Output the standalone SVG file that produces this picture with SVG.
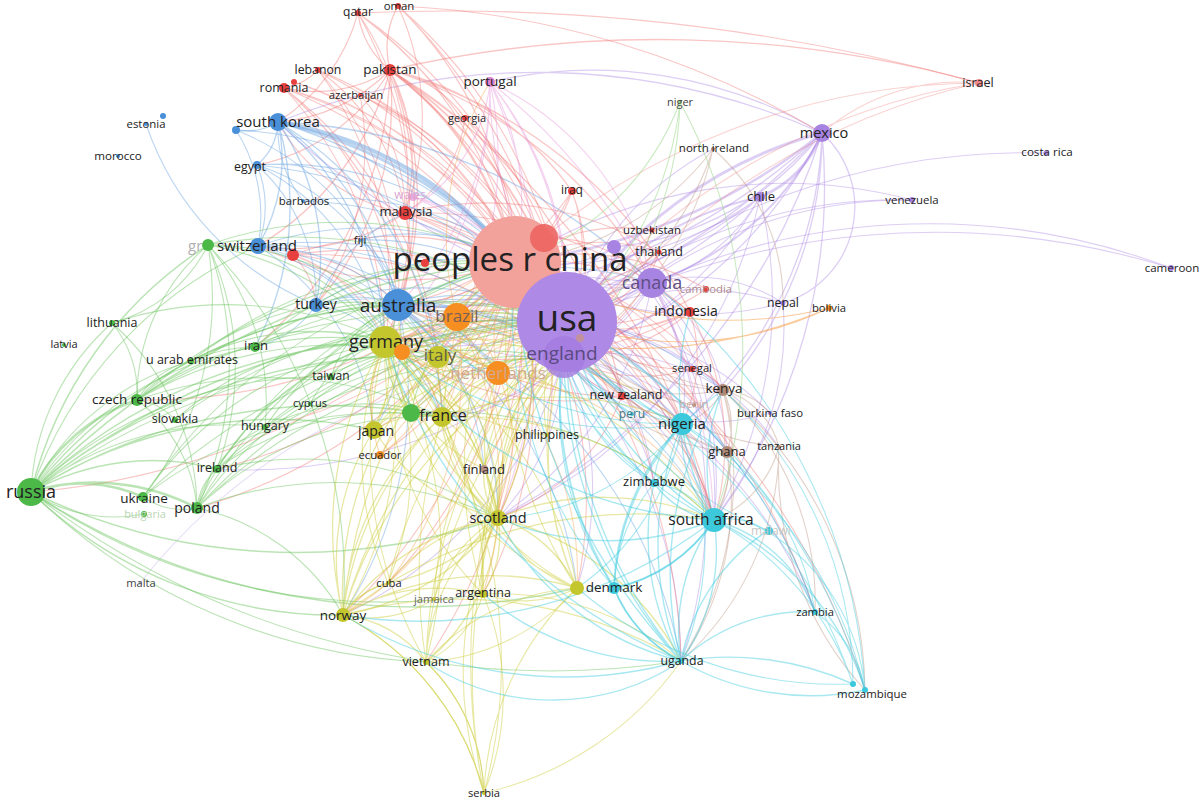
<svg xmlns="http://www.w3.org/2000/svg" width="1203" height="798" viewBox="0 0 1203 798">
<style>
.e{fill:none;stroke-width:1.1;stroke-linecap:round}
.er{stroke:#ee6a66;stroke-opacity:.38}
.eg{stroke:#69c45c;stroke-opacity:.45}
.eb{stroke:#6aa3e0;stroke-opacity:.45}
.ey{stroke:#cdcd3a;stroke-opacity:.45}
.ep{stroke:#a985e4;stroke-opacity:.4}
.ec{stroke:#40cde0;stroke-opacity:.45}
.eo{stroke:#f5a04a;stroke-opacity:.4}
.en{stroke:#b88e7a;stroke-opacity:.4}
.ek{stroke:#e38ad8;stroke-opacity:.4}
.el{stroke:#9ed88e;stroke-opacity:.55}
.cr{fill:#e8403f}.cg{fill:#4cb848}.cb{fill:#4a90d9}.cy{fill:#c4c62e}.cp{fill:#a783e2}.cc{fill:#3cc9dc}.co{fill:#f68e22}.cn{fill:#b08a78}.ck{fill:#dd82cf}.cl{fill:#98d88a}
text{font-family:"Open Sans","Liberation Sans",sans-serif;fill:#222;text-anchor:middle}
.f{fill:#b0b0b0}
</style>
<rect width="1203" height="798" fill="#fff"/>
<g id="connectors">
<!-- purple -->
<path class="e ep" d="M567 322A130 130 0 0 1 652 283M567 322A280 280 0 0 1 783 303M567 322A310 310 0 0 1 770 413M567 322A300 300 0 0 1 779 447M567 322A800 800 0 0 1 1171 268M567 322A510 510 0 0 1 912 200M567 322A710 710 0 0 1 1046 153M567 322A240 240 0 0 1 723 390M567 322A275 275 0 0 1 727 452M567 322A200 200 0 0 1 682 424M567 322A300 300 0 0 1 713 149M567 322A250 250 0 0 1 654 483M567 322A330 330 0 0 1 714 520M567 322A500 500 0 0 1 815 612"/>
<path class="e ep" style="stroke-width:3" d="M567 322A430 430 0 0 1 822 133"/>
<path class="e ep" style="stroke-width:2" d="M567 322A320 320 0 0 1 760 197M822 133A300 300 0 0 1 652 283"/>
<path class="e ep" style="stroke-width:2.5" d="M822 133A600 600 0 0 1 515 262"/>
<path class="e ep" style="stroke-width:3" d="M822 133A110 110 0 0 1 760 197"/>
<path class="e ep" style="stroke-width:1.3" d="M822 133A450 450 0 0 1 564 357M822 133A100 100 0 0 1 783 303M822 133A670 670 0 0 1 385 342M822 133A640 640 0 0 1 398 305M822 133A560 560 0 0 1 714 520M822 133A660 660 0 0 1 498 518M822 133A380 380 0 0 1 723 390M822 133A400 400 0 0 1 682 424M822 133A450 450 0 0 0 490 82M822 133A700 700 0 0 0 278 122M822 133A300 300 0 0 1 614 247"/>
<path class="e ep" d="M760 197A350 350 0 0 1 515 262M760 197A340 340 0 0 1 564 357M760 197A185 185 0 0 1 652 283M760 197A440 440 0 0 1 714 520M760 197A560 560 0 0 1 385 342M760 197A520 520 0 0 1 398 305M760 197A450 450 0 0 1 498 518"/>
<path class="e ep" d="M652 283A185 185 0 0 1 515 262M652 283A155 155 0 0 1 564 357M652 283A330 330 0 0 1 398 305M652 283A380 380 0 0 1 385 342M652 283A335 335 0 0 1 714 520M652 283A200 200 0 0 1 682 424M652 283A260 260 0 0 1 727 452M652 283A175 175 0 0 1 723 390M652 283A160 160 0 0 1 783 303M652 283A340 340 0 0 1 442 417M652 283A570 570 0 0 1 278 122M652 283A350 350 0 0 1 405 213M652 283A490 490 0 0 1 681 661M652 283A360 360 0 0 1 498 518"/>
<path class="e ep" d="M614 247A130 130 0 0 1 515 262M614 247A110 110 0 0 1 567 322M614 247A290 290 0 0 1 398 305M614 247A360 360 0 0 1 714 520M783 303A340 340 0 0 1 515 262M783 303A300 300 0 0 1 714 520M1171 268A680 680 0 0 0 652 283M912 200A450 450 0 0 0 564 357M912 200A500 500 0 0 0 515 262M770 413A200 200 0 0 1 564 357"/>
<path class="e ep" d="M564 357A290 290 0 0 1 714 520M564 357A190 190 0 0 1 682 424M564 357A230 230 0 0 1 398 305M564 357A230 230 0 0 1 385 342M564 357A245 245 0 0 1 498 518M564 357A210 210 0 0 1 723 390M564 357A240 240 0 0 1 727 452M564 357A460 460 0 0 1 681 661M564 357A320 320 0 0 1 577 588M564 357A170 170 0 0 1 442 417M564 357A420 420 0 0 1 343 615M564 357A500 500 0 0 1 217 469M564 357A190 190 0 0 1 654 483M564 357A460 460 0 0 1 815 612"/>
<path class="e ep" style="stroke-opacity:.25" d="M140 583A600 600 0 0 1 564 357"/>
<!-- red -->
<path class="e er" d="M515 262A175 175 0 0 1 398 305M515 262A210 210 0 0 1 385 342M515 262A290 290 0 0 1 374 430M515 262A240 240 0 0 1 442 417M515 262A160 160 0 0 1 438 357M515 262A150 150 0 0 1 498 373M515 262A230 230 0 0 1 622 396M515 262A435 435 0 0 1 714 520M515 262A300 300 0 0 1 682 424M515 262A335 335 0 0 1 723 390M515 262A340 340 0 0 1 498 518M515 262A430 430 0 0 1 577 588M515 262A550 550 0 0 1 343 615M515 262A280 280 0 0 1 484 469M515 262A440 440 0 0 1 483 594M515 262A560 560 0 0 1 426 662M515 262A190 190 0 0 1 659 252M515 262A240 240 0 0 1 690 312M515 262A185 185 0 0 1 652 230"/>
<path class="e er" d="M515 262A340 340 0 0 1 258 246M515 262A750 750 0 0 1 31 492M515 262A560 560 0 0 1 137 400M515 262A540 540 0 0 1 197 508M515 262A495 495 0 0 1 217 469M515 262A410 410 0 0 1 265 427M515 262A370 370 0 0 1 727 452M515 262A600 600 0 0 1 681 661M515 262A285 285 0 0 1 692 369M515 262A250 250 0 0 1 706 289M515 262A320 320 0 0 1 380 455M515 262A230 230 0 0 1 547 435M515 262A360 360 0 0 1 654 483M515 262A610 610 0 0 1 815 612M515 262A450 450 0 0 1 388 583M515 262A740 740 0 0 1 865 690"/>
<path class="e er" style="stroke-width:2.5" d="M390 70A320 320 0 0 1 515 262"/>
<path class="e er" style="stroke-width:2" d="M390 70A420 420 0 0 1 567 322"/>
<path class="e er" style="stroke-width:1.3" d="M390 70A195 195 0 0 1 405 213M390 70A90 90 0 0 1 358 13M390 70A85 85 0 0 1 398 6M390 70A175 175 0 0 1 278 122M390 70A310 310 0 0 1 398 305M390 70A460 460 0 0 1 564 357M390 70A750 750 0 0 1 714 520M390 70A300 300 0 0 1 572 191M390 70A450 450 0 0 1 652 283M390 70A120 120 0 0 1 465 118M390 70A290 290 0 0 1 258 246M390 70A360 360 0 0 1 385 342M390 70A310 310 0 0 1 316 305M390 70A370 370 0 0 1 255 347M390 70A1200 1200 0 0 1 979 83M390 70A480 480 0 0 1 690 312M390 70A490 490 0 0 1 622 396M390 70A200 200 0 0 1 257 165M390 70A140 140 0 0 1 284 88"/>
<path class="e er" d="M358 13A400 400 0 0 1 515 262M358 13A510 510 0 0 1 567 322M358 13A285 285 0 0 1 405 213M358 13A550 550 0 0 1 564 357M358 13A400 400 0 0 1 398 305M358 13A190 190 0 0 1 278 122M358 13A2000 2000 0 0 1 979 83"/>
<path class="e er" d="M398 6A390 390 0 0 1 515 262M398 6A270 270 0 0 1 405 213M398 6A500 500 0 0 1 567 322M398 6A900 900 0 0 1 822 133M398 6A560 560 0 0 1 564 357"/>
<path class="e er" d="M318 70A360 360 0 0 1 515 262M318 70A450 450 0 0 1 567 322M318 70A480 480 0 0 1 564 357M318 70A60 60 0 0 1 284 88M318 70A320 320 0 0 1 398 305M318 70A210 210 0 0 1 405 213M318 70A360 360 0 0 1 385 342"/>
<path class="e er" d="M284 88A390 390 0 0 1 515 262M284 88A490 490 0 0 1 567 322M284 88A380 380 0 0 1 385 342M284 88A400 400 0 0 1 438 357M284 88A460 460 0 0 1 442 417M284 88A320 320 0 0 1 398 305M284 88A520 520 0 0 1 564 357M294 82A390 390 0 0 1 515 262M294 82A480 480 0 0 1 567 322"/>
<path class="e er" d="M360 95A310 310 0 0 1 515 262M360 95A380 380 0 0 1 567 322M360 95A170 170 0 0 1 405 213M360 95A280 280 0 0 1 316 305M465 118A200 200 0 0 1 515 262M465 118A310 310 0 0 1 567 322M465 118A130 130 0 0 1 405 213"/>
<path class="e er" d="M405 213A170 170 0 0 1 515 262M405 213A270 270 0 0 1 567 322M405 213A130 130 0 0 1 398 305M405 213A280 280 0 0 1 564 357M405 213A180 180 0 0 1 278 122M405 213A420 420 0 0 1 690 312M405 213A180 180 0 0 1 385 342M405 213A480 480 0 0 1 714 520M405 213A420 420 0 0 1 682 424M405 213A200 200 0 0 1 258 246M405 213A330 330 0 0 1 659 252"/>
<path class="e er" d="M572 191A120 120 0 0 1 515 262M572 191A175 175 0 0 1 567 322M572 191A210 210 0 0 1 564 357M572 191A280 280 0 0 1 385 342M572 191A270 270 0 0 1 398 305"/>
<path class="e er" d="M293 255A290 290 0 0 1 515 262M293 255A360 360 0 0 1 567 322M293 255A150 150 0 0 1 398 305M293 255A150 150 0 0 1 385 342M293 255A250 250 0 0 1 442 417M293 255A360 360 0 0 1 564 357M293 255A80 80 0 0 1 316 305"/>
<path class="e er" d="M544 238A160 160 0 0 1 564 357M544 238A200 200 0 0 1 398 305M544 238A230 230 0 0 1 385 342M544 238A140 140 0 0 1 652 283"/>
<path class="e er" d="M690 312A170 170 0 0 1 567 322M690 312A380 380 0 0 1 398 305M690 312A270 270 0 0 1 714 520M690 312A150 150 0 0 1 682 424M690 312A190 190 0 0 1 564 357M690 312A400 400 0 0 1 385 342"/>
<path class="e er" d="M622 396A120 120 0 0 1 567 322M622 396A310 310 0 0 1 398 305M622 396A110 110 0 0 1 564 357M622 396A180 180 0 0 1 714 520M622 396A310 310 0 0 1 385 342M622 396A90 90 0 0 1 682 424M622 396A210 210 0 0 1 498 518"/>
<path class="e er" d="M692 369A170 170 0 0 1 567 322M692 369A50 50 0 0 1 723 390M692 369A170 170 0 0 1 564 357M706 289A190 190 0 0 1 567 322M659 252A130 130 0 0 1 567 322M659 252A340 340 0 0 1 398 305M659 252A170 170 0 0 1 564 357M652 230A160 160 0 0 1 567 322"/>
<path class="e er" style="stroke-opacity:.3" d="M979 83A700 700 0 0 0 515 262M979 83A660 660 0 0 0 567 322M979 83A700 700 0 0 0 564 357M979 83A210 210 0 0 0 822 133"/>
<!-- blue -->
<path class="e eb" style="stroke-width:4;stroke-opacity:.5" d="M278 122A380 380 0 0 1 515 262"/>
<path class="e eb" style="stroke-width:3" d="M278 122A480 480 0 0 1 567 322"/>
<path class="e eb" style="stroke-width:1.4" d="M278 122A300 300 0 0 1 398 305M278 122A60 60 0 0 1 257 165M278 122A170 170 0 0 1 258 246M278 122A300 300 0 0 1 385 342M278 122A480 480 0 0 1 564 357M278 122A240 240 0 0 1 316 305M278 122A330 330 0 0 1 438 357M278 122A60 60 0 0 1 236 130M278 122A300 300 0 0 1 255 347M278 122A570 570 0 0 1 652 283"/>
<path class="e eb" d="M236 130A160 160 0 0 1 258 246M236 130A400 400 0 0 1 515 262M236 130A280 280 0 0 1 398 305M146 124A300 300 0 0 0 316 305"/>
<path class="e eb" d="M257 165A330 330 0 0 1 515 262M257 165A480 480 0 0 1 567 322M257 165A220 220 0 0 1 398 305M257 165A110 110 0 0 1 258 246M257 165A180 180 0 0 1 316 305M257 165A200 200 0 0 1 405 213M257 165A240 240 0 0 1 385 342"/>
<path class="e eb" d="M258 246A340 340 0 0 1 515 262M258 246A440 440 0 0 1 567 322M258 246A190 190 0 0 1 385 342M258 246A420 420 0 0 1 564 357M258 246A200 200 0 0 1 398 305M258 246A260 260 0 0 1 438 357M258 246A300 300 0 0 1 442 417M258 246A340 340 0 0 1 498 373M258 246A250 250 0 0 1 374 430"/>
<path class="e eb" d="M316 305A280 280 0 0 1 515 262M316 305A330 330 0 0 1 567 322M316 305A110 110 0 0 1 398 305M316 305A110 110 0 0 1 385 342M316 305A320 320 0 0 1 564 357M316 305A170 170 0 0 1 405 213M316 305A100 100 0 0 1 255 347"/>
<path class="e eb" d="M398 305A220 220 0 0 1 567 322M398 305A230 230 0 0 1 564 357M398 305A310 310 0 0 1 622 396M398 305A330 330 0 0 1 652 283M398 305A90 90 0 0 1 438 357M398 305A170 170 0 0 1 374 430M398 305A440 440 0 0 1 714 520M398 305A380 380 0 0 1 682 424M398 305A150 150 0 0 1 498 373M398 305A150 150 0 0 1 442 417M398 305A280 280 0 0 1 498 518M398 305A390 390 0 0 1 577 588M398 305A400 400 0 0 1 343 615M398 305A410 410 0 0 1 723 390M398 305A490 490 0 0 1 681 661M398 305A230 230 0 0 1 484 469"/>
<path class="e eb" d="M303 201A370 370 0 0 1 567 322M303 201A270 270 0 0 1 515 262M303 201A120 120 0 0 1 278 122M360 240A90 90 0 0 1 398 305M360 240A210 210 0 0 1 515 262M360 240A280 280 0 0 1 567 322"/>
<!-- green -->
<path class="e eg" style="stroke-width:2.5" d="M31 492A185 185 0 0 1 137 400M31 492A150 150 0 0 1 143 497M31 492A220 220 0 0 1 197 508"/>
<path class="e eg" style="stroke-width:1.5" d="M31 492A250 250 0 0 1 217 469M31 492A410 410 0 0 1 208 245M31 492A540 540 0 0 1 385 342M31 492A560 560 0 0 1 442 417M31 492A750 750 0 0 1 515 262M31 492A780 780 0 0 1 567 322M343 615A440 440 0 0 1 31 492M498 518A610 610 0 0 1 31 492M577 588A700 700 0 0 1 31 492M31 492A600 600 0 0 1 438 357M31 492A500 500 0 0 1 398 305M31 492A450 450 0 0 1 374 430"/>
<path class="e eg" d="M31 492A320 320 0 0 1 265 427M31 492A260 260 0 0 1 191 361M31 492A340 340 0 0 1 255 347M31 492A240 240 0 0 1 112 323M31 492A420 420 0 0 1 331 377M426 662A600 600 0 0 1 31 492M483 594A620 620 0 0 1 31 492M31 492A740 740 0 0 1 564 357M31 492A420 420 0 0 1 258 246M681 661A850 850 0 0 1 31 492"/>
<path class="e eg" d="M137 400A330 330 0 0 1 385 342M137 400A560 560 0 0 1 515 262M137 400A600 600 0 0 1 567 322M137 400A150 150 0 0 1 197 508M137 400A200 200 0 0 1 208 245M137 400A400 400 0 0 1 442 417M137 400A160 160 0 0 1 255 347M137 400A60 60 0 0 1 175 420M137 400A400 400 0 0 1 438 357M137 400A90 90 0 0 1 191 361"/>
<path class="e eg" d="M197 508A290 290 0 0 1 385 342M197 508A540 540 0 0 1 515 262M197 508A580 580 0 0 1 567 322M197 508A330 330 0 0 1 442 417M197 508A350 350 0 0 1 438 357M197 508A530 530 0 0 1 564 357M197 508A220 220 0 0 1 343 615M197 508A70 70 0 0 1 143 497M197 508A60 60 0 0 1 217 469M197 508A390 390 0 0 1 498 518M197 508A120 120 0 0 1 265 427"/>
<path class="e eg" d="M208 245A400 400 0 0 1 515 262M208 245A480 480 0 0 1 567 322M208 245A230 230 0 0 1 385 342M208 245A340 340 0 0 1 197 508M208 245A290 290 0 0 1 217 469M208 245A330 330 0 0 1 442 417M208 245A300 300 0 0 1 438 357M208 245A320 320 0 0 1 143 497M208 245A240 240 0 0 1 265 427M208 245A150 150 0 0 1 112 323M208 245A480 480 0 0 1 343 615"/>
<path class="e eg" d="M255 347A340 340 0 0 1 515 262M255 347A400 400 0 0 1 567 322M255 347A190 190 0 0 1 398 305M255 347A170 170 0 0 1 385 342M191 361A470 470 0 0 1 515 262M191 361A510 510 0 0 1 567 322M191 361A260 260 0 0 1 385 342M191 361A270 270 0 0 1 398 305M112 323A360 360 0 0 1 385 342M112 323A250 250 0 0 1 197 508M112 323A110 110 0 0 1 137 400"/>
<path class="e eg" d="M265 427A200 200 0 0 1 385 342M265 427A450 450 0 0 1 567 322M265 427A410 410 0 0 1 515 262M265 427A230 230 0 0 1 442 417M217 469A530 530 0 0 1 567 322M217 469A500 500 0 0 1 564 357M217 469A280 280 0 0 1 385 342M217 469A490 490 0 0 1 515 262M217 469A300 300 0 0 1 442 417M217 469A360 360 0 0 1 498 518"/>
<path class="e eg" d="M143 497A540 540 0 0 1 515 262M143 497A640 640 0 0 1 567 322M143 497A370 370 0 0 1 385 342M143 497A390 390 0 0 1 442 417M411 413A240 240 0 0 1 515 262M411 413A230 230 0 0 1 567 322M411 413A100 100 0 0 1 385 342M411 413A140 140 0 0 1 398 305M411 413A210 210 0 0 1 564 357M411 413A390 390 0 0 1 714 520"/>
<path class="e eg" d="M331 377A300 300 0 0 1 515 262M331 377A335 335 0 0 1 567 322M331 377A110 110 0 0 1 398 305M310 404A120 120 0 0 1 385 342M310 404A370 370 0 0 1 567 322M175 420A300 300 0 0 1 385 342M175 420A540 540 0 0 1 567 322M144 514A150 150 0 0 1 31 492"/>
<!-- olive -->
<path class="e ey" d="M385 342A245 245 0 0 1 567 322M385 342A230 230 0 0 1 564 357M385 342A70 70 0 0 1 438 357M385 342A150 150 0 0 1 498 373M385 342A270 270 0 0 1 498 518M385 342A360 360 0 0 1 343 615M385 342A120 120 0 0 1 374 430M385 342A330 330 0 0 1 577 588M385 342A180 180 0 0 1 484 469M385 342A340 340 0 0 1 483 594M385 342A420 420 0 0 1 426 662M385 342A310 310 0 0 1 388 583M385 342A110 110 0 0 1 442 417M385 342A440 440 0 0 1 714 520M385 342A380 380 0 0 1 682 424"/>
<path class="e ey" style="stroke-width:1.4" d="M498 518A290 290 0 0 1 567 322M498 518A245 245 0 0 1 564 357M498 518A340 340 0 0 0 515 262M498 518A270 270 0 0 0 385 342M498 518A240 240 0 0 1 343 615M498 518A110 110 0 0 1 483 594M498 518A130 130 0 0 1 577 588M498 518A200 200 0 0 1 426 662M498 518A70 70 0 0 1 484 469M498 518A130 130 0 0 1 442 417M498 518A280 280 0 0 1 714 520M498 518A280 280 0 0 1 681 661M498 518A230 230 0 0 1 438 357M498 518A200 200 0 0 1 498 373M498 518A290 290 0 0 1 398 305M498 518A200 200 0 0 1 374 430M498 518A180 180 0 0 1 388 583"/>
<path class="e ey" style="stroke-width:1.3" d="M343 615A500 500 0 0 1 567 322M343 615A420 420 0 0 1 564 357M343 615A360 360 0 0 1 385 342M343 615A550 550 0 0 1 515 262M343 615A300 300 0 0 1 577 588M343 615A180 180 0 0 1 483 594M343 615A120 120 0 0 1 426 662M343 615A80 80 0 0 1 388 583M343 615A280 280 0 0 1 442 417M343 615A240 240 0 0 1 374 430M343 615A280 280 0 0 1 484 793M343 615A480 480 0 0 1 714 520M343 615A430 430 0 0 1 681 661M343 615A340 340 0 0 1 438 357M343 615A330 330 0 0 1 498 373M343 615A240 240 0 0 1 498 518"/>
<path class="e ey" d="M374 430A290 290 0 0 1 515 262M374 430A300 300 0 0 1 567 322M374 430A120 120 0 0 1 385 342M374 430A100 100 0 0 1 442 417M374 430A260 260 0 0 1 564 357M374 430A120 120 0 0 1 438 357M438 357A180 180 0 0 1 567 322M438 357A170 170 0 0 1 564 357M438 357A90 90 0 0 1 498 373M438 357A90 90 0 0 1 442 417M438 357A220 220 0 0 1 498 518M438 357A160 160 0 0 1 515 262"/>
<path class="e ey" d="M442 417A210 210 0 0 1 567 322M442 417A170 170 0 0 1 564 357M442 417A240 240 0 0 1 515 262M442 417A90 90 0 0 1 498 373M442 417A140 140 0 0 1 498 518M442 417A360 360 0 0 1 714 520M442 417A320 320 0 0 1 682 424"/>
<path class="e ey" d="M577 588A370 370 0 0 1 567 322M577 588A320 320 0 0 1 564 357M577 588A130 130 0 0 1 498 518M577 588A120 120 0 0 1 483 594M577 588A220 220 0 0 1 426 662M577 588A330 330 0 0 1 385 342M577 588A430 430 0 0 1 515 262M577 588A250 250 0 0 1 442 417"/>
<path class="e ey" d="M483 594A400 400 0 0 1 567 322M483 594A350 350 0 0 1 564 357M483 594A110 110 0 0 1 498 518M483 594A110 110 0 0 1 426 662M483 594A260 260 0 0 1 484 793M483 594A440 440 0 0 1 515 262M483 594A340 340 0 0 1 385 342M483 594A280 280 0 0 1 681 661"/>
<path class="e ey" d="M426 662A515 515 0 0 1 567 322M426 662A480 480 0 0 1 564 357M426 662A200 200 0 0 1 498 518M426 662A190 190 0 0 1 484 793M426 662A560 560 0 0 1 515 262M426 662A420 420 0 0 1 385 342M426 662A220 220 0 0 1 577 588"/>
<path class="e ey" d="M484 793A280 280 0 0 0 343 615M484 793A190 190 0 0 0 426 662M484 793A360 360 0 0 1 498 518M484 793A300 300 0 0 1 577 588M484 793A650 650 0 0 1 567 322M484 793A600 600 0 0 1 564 357M484 793A500 500 0 0 0 385 342M484 793A330 330 0 0 0 681 661"/>
<path class="e ey" d="M388 583A80 80 0 0 0 343 615M388 583A430 430 0 0 1 567 322M388 583A310 310 0 0 1 385 342M388 583A180 180 0 0 1 498 518M434 599A400 400 0 0 1 567 322M434 599A120 120 0 0 1 343 615M434 599A140 140 0 0 1 498 518M484 469A235 235 0 0 1 567 322M484 469A180 180 0 0 1 385 342M484 469A190 190 0 0 1 564 357M547 435A160 160 0 0 1 567 322M547 435A230 230 0 0 1 385 342"/>
<!-- orange -->
<path class="e eo" d="M457 317A110 110 0 0 1 515 262M457 317A150 150 0 0 1 567 322M457 317A150 150 0 0 1 564 357M457 317A110 110 0 0 1 385 342M457 317A80 80 0 0 1 398 305M457 317A90 90 0 0 1 498 373M457 317A140 140 0 0 1 442 417M457 317A270 270 0 0 1 498 518M457 317A350 350 0 0 1 714 520M457 317A360 360 0 0 1 483 594M457 317A190 190 0 0 1 380 455M457 317A340 340 0 0 1 388 583M457 317A300 300 0 0 1 490 82"/>
<path class="e eo" d="M498 373A120 120 0 0 1 567 322M498 373A150 150 0 0 1 515 262M498 373A90 90 0 0 1 564 357M498 373A190 190 0 0 1 498 518M498 373A300 300 0 0 1 714 520M498 373A290 290 0 0 1 577 588M498 373A320 320 0 0 1 343 615M498 373A150 150 0 0 1 385 342M402 352A230 230 0 0 1 567 322M402 352A200 200 0 0 1 515 262M402 352A220 220 0 0 1 564 357M402 352A130 130 0 0 1 498 373M380 455A310 310 0 0 1 567 322M380 455A150 150 0 0 1 385 342"/>
<path class="e eo" style="stroke-opacity:.55" d="M829 308A340 340 0 0 1 567 322M829 308A420 420 0 0 1 515 262M829 308A500 500 0 0 1 457 317"/>
<!-- brown -->
<path class="e en" d="M723 390A240 240 0 0 1 567 322M723 390A210 210 0 0 1 564 357M723 390A170 170 0 0 1 714 520M723 390A70 70 0 0 1 682 424M723 390A80 80 0 0 1 727 452M723 390A350 350 0 0 1 681 661M723 390A80 80 0 0 1 779 447M723 390A400 400 0 0 1 865 690M723 390A335 335 0 0 1 515 262M723 390A290 290 0 0 1 815 612M723 390A70 70 0 0 1 770 413"/>
<path class="e en" d="M727 452A275 275 0 0 1 567 322M727 452A240 240 0 0 1 564 357M727 452A70 70 0 0 1 682 424M727 452A100 100 0 0 1 714 520M727 452A280 280 0 0 1 681 661M727 452A370 370 0 0 1 515 262M779 447A300 300 0 0 1 567 322M779 447A110 110 0 0 1 714 520M779 447A290 290 0 0 1 681 661M779 447A330 330 0 0 0 865 690M694 405A190 190 0 0 1 567 322"/>
<path class="e en" d="M713 149A300 300 0 0 1 567 322M713 149A290 290 0 0 1 515 262M713 149A320 320 0 0 1 564 357M713 149A200 200 0 0 1 783 303"/>
<!-- cyan -->
<path class="e ec" style="stroke-width:1.4" d="M714 520A130 130 0 0 1 682 424M714 520A330 330 0 0 1 567 322M714 520A290 290 0 0 1 564 357M714 520A190 190 0 0 1 681 661M714 520A150 150 0 0 1 815 612M714 520A280 280 0 0 1 865 690M714 520A70 70 0 0 1 767 531M714 520A90 90 0 0 1 654 483M714 520A160 160 0 0 1 614 588M714 520A280 280 0 0 1 498 518M714 520A440 440 0 0 1 385 342M714 520A270 270 0 0 1 690 312M714 520A480 480 0 0 1 343 615M714 520A200 200 0 0 1 723 390"/>
<path class="e ec" d="M682 424A200 200 0 0 1 567 322M682 424A190 190 0 0 1 564 357M682 424A300 300 0 0 1 515 262M682 424A310 310 0 0 1 681 661M682 424A250 250 0 0 1 577 588M682 424A380 380 0 0 1 385 342M682 424A380 380 0 0 1 398 305M682 424A90 90 0 0 1 654 483M682 424A450 450 0 0 1 865 690M682 424A250 250 0 0 1 498 518M682 424A260 260 0 0 1 815 612"/>
<path class="e ec" style="stroke-width:1.4" d="M681 661A500 500 0 0 1 567 322M681 661A460 460 0 0 1 564 357M681 661A190 190 0 0 1 714 520M681 661A140 140 0 0 1 614 588M681 661A280 280 0 0 1 498 518M681 661A260 260 0 0 0 865 690M681 661A300 300 0 0 1 853 684M681 661A180 180 0 0 1 815 612M681 661A430 430 0 0 1 343 615M681 661A230 230 0 0 1 426 662M681 661A600 600 0 0 1 515 262M681 661A520 520 0 0 1 385 342M681 661A250 250 0 0 1 654 483M681 661A280 280 0 0 1 483 594M681 661A310 310 0 0 1 682 424M681 661A200 200 0 0 1 767 531M681 661A350 350 0 0 1 723 390"/>
<path class="e ec" d="M567 322A630 630 0 0 1 865 690M564 357A570 570 0 0 1 853 684M723 390A400 400 0 0 1 853 684M815 612A120 120 0 0 1 865 690M577 588A400 400 0 0 0 853 684M652 283A560 560 0 0 1 865 690M767 531A210 210 0 0 1 865 690M767 531A375 375 0 0 1 567 322M714 520A300 300 0 0 1 853 684M567 322A500 500 0 0 1 815 612"/>
<path class="e ec" style="stroke-width:2" d="M614 588A160 160 0 0 0 714 520M614 588A140 140 0 0 0 681 661M614 588A250 250 0 0 1 682 424M614 588A370 370 0 0 1 567 322"/>
<path class="e ec" d="M614 588A320 320 0 0 1 564 357M614 588A180 180 0 0 1 654 483M614 588A260 260 0 0 1 723 390M614 588A430 430 0 0 1 515 262M654 483A90 90 0 0 1 714 520M654 483A250 250 0 0 1 567 322M654 483A190 190 0 0 1 564 357M654 483A90 90 0 0 1 682 424M654 483A360 360 0 0 1 515 262M632 414A150 150 0 0 1 567 322M632 414A230 230 0 0 1 515 262"/>
<!-- pink -->
<path class="e ek" d="M490 82A250 250 0 0 1 515 262M490 82A350 350 0 0 1 567 322M490 82A370 370 0 0 1 564 357M490 82A360 360 0 0 1 385 342M490 82A310 310 0 0 1 398 305M490 82A170 170 0 0 1 405 213M490 82A360 360 0 0 1 438 357M490 82A560 560 0 0 1 498 518M490 82A590 590 0 0 1 714 520M490 82A290 290 0 0 1 652 283M490 82A400 400 0 0 0 567 322M413 197A170 170 0 0 1 515 262M413 197A270 270 0 0 1 567 322M413 197A270 270 0 0 1 564 357"/>
<!-- light green -->
<path class="e el" d="M680 102A345 345 0 0 1 567 322M680 102A270 270 0 0 1 515 262M680 102A360 360 0 0 1 564 357M680 102A520 520 0 0 1 714 520"/>
</g>
<g id="nodes">
<g id="n-china"><circle cx="515" cy="262" r="46" fill="#f2a19b"/><circle cx="544" cy="238" r="14" fill="#ec6461" opacity=".9"/><text x="510" y="271" font-size="33">peoples r china</text></g>
<g id="n-usa"><circle cx="567" cy="322" r="50" fill="#ae89e6"/><text x="567" y="331" font-size="37">usa</text></g>
<g id="n-england"><circle cx="564" cy="357" r="21" fill="#a47ade" opacity=".8"/><circle cx="580" cy="338" r="4" fill="#c9967f" opacity=".7"/><text x="562" y="360" font-size="19" style="fill:#5a4a80">england</text></g>
<g id="n-red-a"><circle class="cr" cx="425" cy="263" r="4"/></g>
<g id="n-australia"><circle class="cb" cx="398" cy="305" r="16"/><text x="398" y="312" font-size="19">australia</text></g>
<g id="n-germany"><circle class="cy" cx="385" cy="342" r="16"/><text x="386" y="348" font-size="18">germany</text></g>
<g id="n-orange-a"><circle class="co" cx="402" cy="352" r="8"/></g>
<g id="n-brazil"><circle class="co" cx="457" cy="317" r="14"/><text x="457" y="322" font-size="17" style="fill:#7a6058">brazil</text></g>
<g id="n-italy"><circle class="cy" cx="438" cy="357" r="11"/><text x="440" y="361" font-size="17" style="fill:#5e5e40">italy</text></g>
<g id="n-netherlands"><circle class="co" cx="498" cy="373" r="12"/><text x="498" y="379" font-size="17" style="fill:#d2a88e">netherlands</text></g>
<g id="n-france"><circle class="cg" cx="411" cy="413" r="9"/><circle class="cy" cx="442" cy="417" r="10"/><text x="443" y="421" font-size="16">france</text></g>
<g id="n-japan"><circle class="cy" cx="374" cy="430" r="9"/><text x="376" y="436" font-size="14">japan</text></g>
<g id="n-canada"><circle class="cp" cx="652" cy="283" r="15"/><circle class="cp" cx="614" cy="247" r="7"/><text x="652" y="289" font-size="18" style="fill:#5e4e84">canada</text></g>
<g id="n-nigeria"><circle class="cc" cx="682" cy="424" r="11"/><text x="682" y="429" font-size="15">nigeria</text></g>
<g id="n-south-africa"><circle class="cc" cx="714" cy="520" r="12"/><text x="711" y="525" font-size="15.5">south africa</text></g>
<g id="n-russia"><circle class="cg" cx="31" cy="492" r="14"/><text x="31" y="498" font-size="18">russia</text></g>
<g id="n-greece"><circle class="cg" cx="208" cy="245" r="6"/><text x="188" y="251" font-size="15" class="f" style="text-anchor:start">gr</text></g>
<g id="n-switzerland"><circle class="cb" cx="258" cy="246" r="8"/><circle class="cr" cx="293" cy="255" r="6"/><text x="257" y="251" font-size="15">switzerland</text></g>
<g id="n-south-korea"><circle class="cb" cx="278" cy="122" r="9"/><circle class="cb" cx="236" cy="130" r="4"/><text x="278" y="127" font-size="15">south korea</text></g>
<g id="n-turkey"><circle class="cb" cx="316" cy="305" r="7"/><text x="316" y="309" font-size="14">turkey</text></g>
<g id="n-mexico"><circle class="cp" cx="822" cy="133" r="9"/><text x="824" y="138" font-size="14.5">mexico</text></g>
<g id="n-chile"><circle class="cp" cx="760" cy="197" r="5"/><text x="761" y="201" font-size="13">chile</text></g>
<g id="n-pakistan"><circle class="cr" cx="390" cy="70" r="6"/><text x="390" y="74" font-size="13.5">pakistan</text></g>
<g id="n-malaysia"><circle class="cr" cx="405" cy="213" r="7"/><text x="406" y="216" font-size="13">malaysia</text></g>
<g id="n-wales"><circle class="ck" cx="413" cy="197" r="4" opacity=".6"/><text x="410" y="199" font-size="12" style="fill:#d9a6d6">wales</text></g>
<g id="n-kenya"><circle class="cn" cx="723" cy="390" r="6"/><text x="724" y="393" font-size="13.5">kenya</text></g>
<g id="n-ghana"><circle class="cn" cx="727" cy="452" r="6"/><text x="727" y="456" font-size="13">ghana</text></g>
<g id="n-scotland"><circle class="cy" cx="498" cy="518" r="8"/><text x="498" y="523" font-size="14.5">scotland</text></g>
<g id="n-denmark"><circle class="cy" cx="577" cy="588" r="7"/><circle class="cc" cx="614" cy="588" r="6"/><text x="614" y="592" font-size="13.5">denmark</text></g>
<g id="n-norway"><circle class="cy" cx="343" cy="615" r="7"/><text x="343" y="620" font-size="13.5">norway</text></g>
<g id="n-czech"><circle class="cg" cx="137" cy="400" r="6"/><text x="137" y="404" font-size="13.5">czech republic</text></g>
<g id="n-poland"><circle class="cg" cx="197" cy="508" r="6"/><text x="197" y="513" font-size="14">poland</text></g>
<g id="n-ukraine"><circle class="cg" cx="143" cy="497" r="5"/><text x="144" y="503" font-size="13.5">ukraine</text></g>
<g id="n-bulgaria"><circle class="cg" cx="144" cy="514" r="3"/><text x="145" y="518" font-size="11" style="fill:#b9d6b4">bulgaria</text></g>
<g id="n-iran"><circle class="cg" cx="255" cy="347" r="5"/><text x="256" y="350" font-size="13">iran</text></g>
<g id="n-indonesia"><circle class="cr" cx="690" cy="312" r="5"/><text x="686" y="316" font-size="14">indonesia</text></g>
<g id="n-portugal"><circle class="ck" cx="490" cy="82" r="5"/><text x="490" y="86" font-size="13.5">portugal</text></g>
<g id="n-qatar"><circle class="cr" cx="358" cy="13" r="3"/><text x="358" y="16" font-size="12">qatar</text></g>
<g id="n-oman"><circle class="cr" cx="398" cy="6" r="3"/><text x="399" y="10" font-size="11.4">oman</text></g>
<g id="n-lebanon"><circle class="cr" cx="318" cy="70" r="3"/><text x="318" y="74" font-size="12.3">lebanon</text></g>
<g id="n-romania"><circle class="cr" cx="284" cy="88" r="5"/><circle class="cr" cx="294" cy="82" r="3"/><text x="284" y="92" font-size="12.5">romania</text></g>
<g id="n-azerbaijan"><circle class="cr" cx="360" cy="95" r="2"/><text x="356" y="99" font-size="11.3">azerbaijan</text></g>
<g id="n-georgia"><circle class="cr" cx="465" cy="118" r="3"/><text x="467" y="122" font-size="11">georgia</text></g>
<g id="n-estonia"><circle class="cb" cx="146" cy="124" r="2"/><circle class="cb" cx="163" cy="116" r="3"/><text x="146" y="128" font-size="11.4">estonia</text></g>
<g id="n-morocco"><circle class="cb" cx="118" cy="156" r="2"/><text x="118" y="160" font-size="11.6">morocco</text></g>
<g id="n-egypt"><circle class="cb" cx="257" cy="165" r="4"/><text x="250" y="171" font-size="12.4">egypt</text></g>
<g id="n-barbados"><circle class="cb" cx="303" cy="201" r="2"/><text x="304" y="205" font-size="11.4">barbados</text></g>
<g id="n-fiji"><circle class="cb" cx="360" cy="240" r="1.5"/><text x="360" y="244" font-size="11.5">fiji</text></g>
<g id="n-iraq"><circle class="cr" cx="572" cy="191" r="4"/><text x="572" y="194" font-size="12">iraq</text></g>
<g id="n-uzbekistan"><circle class="cr" cx="652" cy="230" r="2.5"/><text x="652" y="234" font-size="11.5">uzbekistan</text></g>
<g id="n-thailand"><circle class="cr" cx="659" cy="252" r="2.5"/><text x="659" y="256" font-size="12.5">thailand</text></g>
<g id="n-cambodia"><circle class="cr" cx="706" cy="289" r="3"/><text x="706" y="293" font-size="11.4" style="fill:#b08c8a">cambodia</text></g>
<g id="n-north-ireland"><circle class="cn" cx="713" cy="149" r="2"/><text x="714" y="152" font-size="11.5">north ireland</text></g>
<g id="n-niger"><circle class="cl" cx="680" cy="102" r="2"/><text x="680" y="106" font-size="11" style="fill:#444">niger</text></g>
<g id="n-israel"><circle cx="979" cy="83" r="4" fill="#ef8b8b"/><text x="978" y="87" font-size="12.6">israel</text></g>
<g id="n-costa-rica"><circle class="cp" cx="1046" cy="153" r="2.5"/><text x="1047" y="156" font-size="11.6">costa rica</text></g>
<g id="n-venezuela"><circle class="cp" cx="912" cy="200" r="3"/><text x="912" y="204" font-size="11.4">venezuela</text></g>
<g id="n-cameroon"><circle class="cp" cx="1171" cy="268" r="3"/><text x="1172" y="272" font-size="11.5">cameroon</text></g>
<g id="n-nepal"><circle class="cp" cx="783" cy="303" r="2.5"/><text x="783" y="307" font-size="12.3">nepal</text></g>
<g id="n-bolivia"><circle class="co" cx="829" cy="308" r="3"/><text x="829" y="312" font-size="11.3">bolivia</text></g>
<g id="n-senegal"><circle class="cr" cx="692" cy="369" r="3"/><text x="692" y="372" font-size="11.2">senegal</text></g>
<g id="n-new-zealand"><circle class="cr" cx="622" cy="396" r="4"/><text x="626" y="399" font-size="12.5">new zealand</text></g>
<g id="n-benin"><circle class="cn" cx="694" cy="405" r="2"/><text x="694" y="408" font-size="11" style="fill:#c9aaa4">benin</text></g>
<g id="n-peru"><circle class="cc" cx="632" cy="414" r="2"/><text x="632" y="418" font-size="12" style="fill:#3a7a88">peru</text></g>
<g id="n-burkina-faso"><circle class="cp" cx="770" cy="413" r="2"/><text x="770" y="417" font-size="11.4">burkina faso</text></g>
<g id="n-tanzania"><circle class="cn" cx="779" cy="447" r="2"/><text x="779" y="450" font-size="11">tanzania</text></g>
<g id="n-zimbabwe"><circle class="cc" cx="654" cy="483" r="4"/><text x="654" y="486" font-size="13">zimbabwe</text></g>
<g id="n-malawi"><circle class="cc" cx="769" cy="531" r="4"/><text x="771" y="535" font-size="12" style="fill:#c8c8c8">malawi</text></g>
<g id="n-zambia"><circle class="cc" cx="815" cy="612" r="3"/><text x="815" y="616" font-size="11.2">zambia</text></g>
<g id="n-uganda"><circle class="cc" cx="681" cy="661" r="3"/><text x="682" y="665" font-size="12.3">uganda</text></g>
<g id="n-mozambique"><circle class="cc" cx="853" cy="684" r="3"/><circle class="cc" cx="865" cy="690" r="3"/><text x="872" y="698" font-size="11.4">mozambique</text></g>
<g id="n-finland"><circle cx="484" cy="469" r="4" fill="#b89088"/><text x="484" y="474" font-size="13">finland</text></g>
<g id="n-philippines"><circle class="cy" cx="547" cy="435" r="2"/><text x="547" y="439" font-size="12.5">philippines</text></g>
<g id="n-ecuador"><circle class="co" cx="380" cy="455" r="4"/><text x="380" y="459" font-size="11.2">ecuador</text></g>
<g id="n-cuba"><circle class="cy" cx="388" cy="583" r="2"/><text x="389" y="587" font-size="11.2">cuba</text></g>
<g id="n-jamaica"><circle class="cy" cx="434" cy="599" r="2"/><text x="434" y="603" font-size="11.2" style="fill:#666">jamaica</text></g>
<g id="n-argentina"><circle class="cy" cx="483" cy="594" r="4"/><text x="483" y="597" font-size="12.5">argentina</text></g>
<g id="n-vietnam"><circle class="cy" cx="426" cy="662" r="3"/><text x="426" y="666" font-size="12.5">vietnam</text></g>
<g id="n-serbia"><circle class="cy" cx="484" cy="793" r="2"/><text x="484" y="797" font-size="11.2">serbia</text></g>
<g id="n-malta"><circle cx="140" cy="583" r="1.5" fill="#9ab"/><text x="141" y="587" font-size="11.2" style="fill:#444">malta</text></g>
<g id="n-lithuania"><circle class="cg" cx="112" cy="323" r="3"/><text x="112" y="327" font-size="12.5">lithuania</text></g>
<g id="n-latvia"><circle class="cg" cx="64" cy="345" r="2"/><text x="64" y="348" font-size="11">latvia</text></g>
<g id="n-uae"><circle class="cg" cx="191" cy="361" r="3"/><text x="192" y="364" font-size="12.5">u arab emirates</text></g>
<g id="n-taiwan"><circle class="cg" cx="331" cy="377" r="3"/><text x="331" y="380" font-size="12">taiwan</text></g>
<g id="n-cyprus"><circle class="cg" cx="310" cy="404" r="2"/><text x="310" y="407" font-size="11">cyprus</text></g>
<g id="n-slovakia"><circle class="cg" cx="175" cy="420" r="3"/><text x="175" y="423" font-size="12.5">slovakia</text></g>
<g id="n-hungary"><circle class="cg" cx="265" cy="427" r="3"/><text x="265" y="430" font-size="12.5">hungary</text></g>
<g id="n-ireland"><circle class="cg" cx="217" cy="469" r="4"/><text x="217" y="472" font-size="12.5">ireland</text></g>
</g>
</svg>
